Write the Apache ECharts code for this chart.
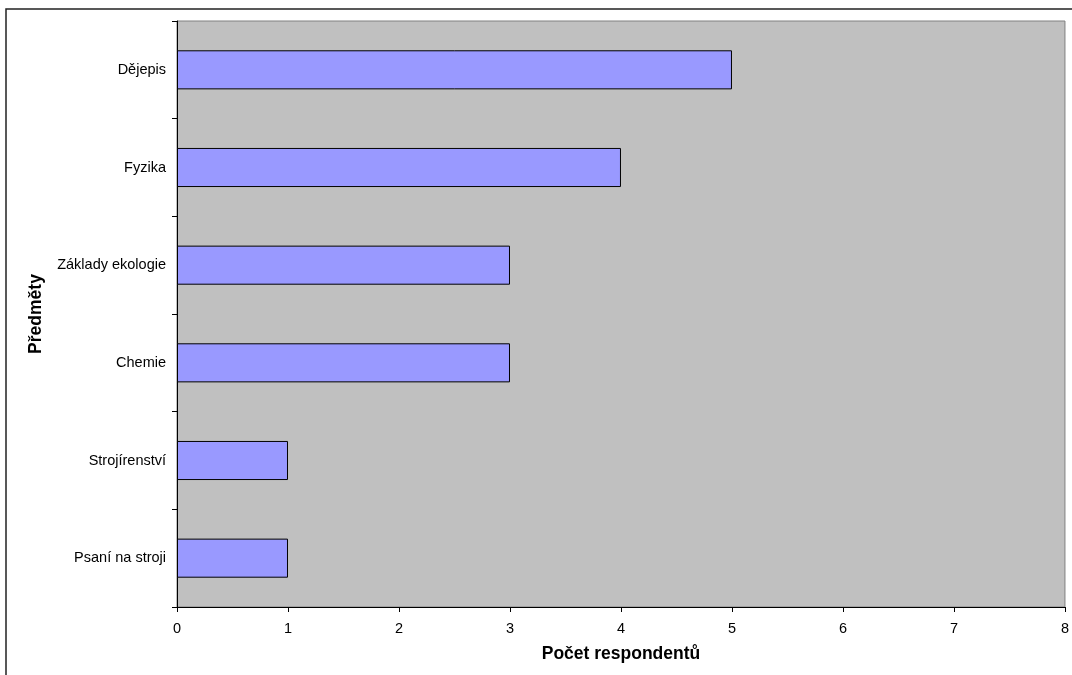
<!DOCTYPE html>
<html><head><meta charset="utf-8">
<script src="https://cdn.jsdelivr.net/npm/echarts@6/dist/echarts.min.js"></script>
<style>html,body{margin:0;padding:0;background:#fff}#c{width:1072px;height:675px}</style>
</head><body><div id="c"></div>
<script>
const categories = ['Psaní na stroji','Strojírenství','Chemie','Základy ekologie','Fyzika','Dějepis'];
const values = [1,1,3,3,4,5];
const xTicks = [0,1,2,3,4,5,6,7,8];
const xAxisName = 'Počet respondentů';
const yAxisName = 'Předměty';

const chart = echarts.init(document.getElementById('c'), null, {renderer:'canvas'});
const F = '"Liberation Sans", Arial, sans-serif';
chart.setOption({
  animation:false,
  backgroundColor:'#fff',
  graphic:[{type:'rect',shape:{x:6,y:9,width:1100,height:700},style:{fill:'none',stroke:'#222',lineWidth:1.5},z:100}],
  grid:{left:177,top:21,right:5,bottom:68,show:true,backgroundColor:'#C0C0C0',borderColor:'#808080',borderWidth:1},
  xAxis:{type:'value',min:xTicks[0],max:xTicks[xTicks.length-1],interval:1,
    name:xAxisName,nameLocation:'middle',nameGap:38,
    nameTextStyle:{fontFamily:F,fontSize:17.5,fontWeight:'bold',color:'#000'},
    axisLine:{show:true,lineStyle:{color:'#000',width:1}},
    axisTick:{show:true,length:5,lineStyle:{color:'#000'}},
    axisLabel:{fontFamily:F,fontSize:14.5,color:'#000',margin:14},
    splitLine:{show:false}},
  yAxis:{type:'category',data:categories,
    name:yAxisName,nameLocation:'middle',nameGap:132,nameRotate:90,
    nameTextStyle:{fontFamily:F,fontSize:17.5,fontWeight:'bold',color:'#000'},
    axisLine:{show:true,lineStyle:{color:'#000',width:1}},
    axisTick:{show:true,length:5,alignWithLabel:false,lineStyle:{color:'#000'}},
    axisLabel:{fontFamily:F,fontSize:14.5,color:'#000',margin:11},
    splitLine:{show:false}},
  series:[{type:'bar',data:values,barCategoryGap:'60%',
    itemStyle:{color:'#9999FF',borderColor:'#000',borderWidth:1}}]
});
</script></body></html>
